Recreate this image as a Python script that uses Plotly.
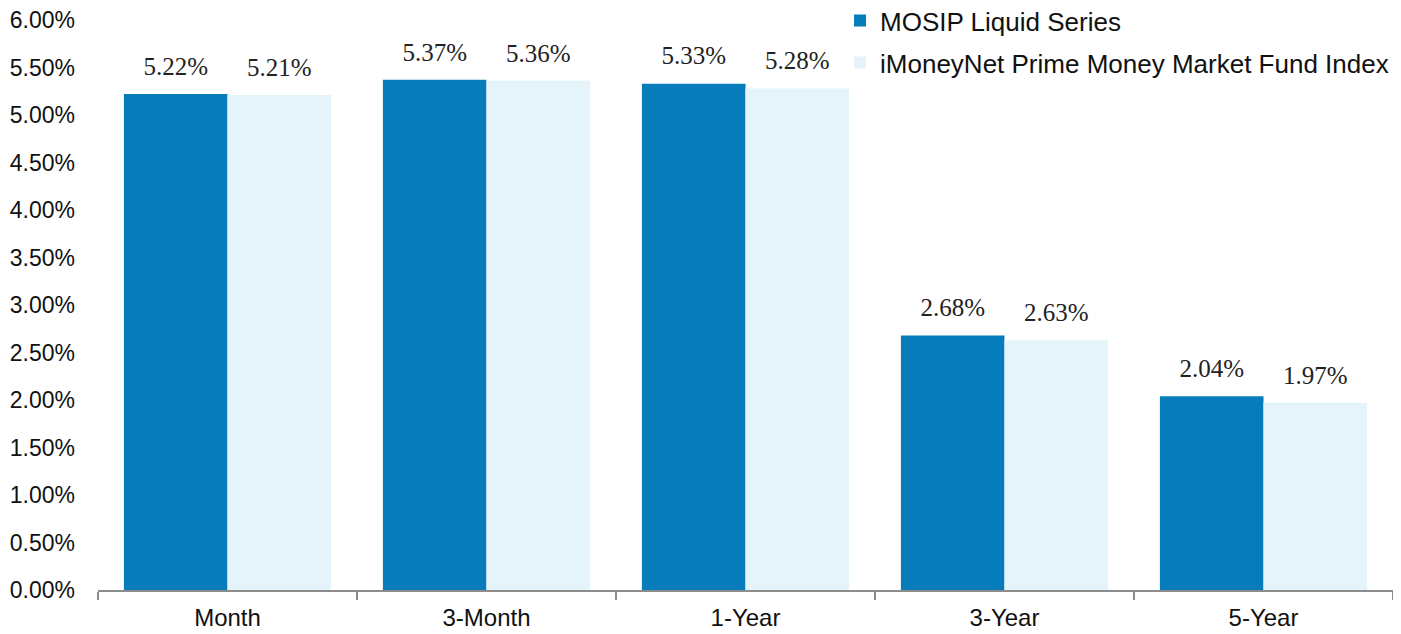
import plotly.graph_objects as go

categories = ["Month", "3-Month", "1-Year", "3-Year", "5-Year"]
mosip = [5.22, 5.37, 5.33, 2.68, 2.04]
imoney = [5.21, 5.36, 5.28, 2.63, 1.97]
series_names = ["MOSIP Liquid Series", "iMoneyNet Prime Money Market Fund Index"]
y_ticks = [0, 0.5, 1, 1.5, 2, 2.5, 3, 3.5, 4, 4.5, 5, 5.5, 6]

DARK = "#077CBA"
LIGHT = "#E5F3FB"

def labels(vals):
    return [f"<span style='font-size:25px'>{v:.2f}%</span><br> " for v in vals]

fig = go.Figure()
for name, vals, col, grp in [(series_names[0], mosip, DARK, "a"), (series_names[1], imoney, LIGHT, "b")]:
    fig.add_trace(go.Bar(
        x=categories, y=vals, name=name, marker=dict(color=col, line=dict(width=0)),
        text=labels(vals), textposition="outside", cliponaxis=False, constraintext="none",
        textfont=dict(family="Liberation Serif", size=11, color="#222"),
        legendgroup=grp,
    ))

fig.update_layout(
    width=1393, height=626,
    margin=dict(l=90, r=8, t=12, b=44, autoexpand=False),
    plot_bgcolor="white", paper_bgcolor="white",
    barmode="group", bargap=0.2, bargroupgap=0,
    font=dict(family="Liberation Sans, Arial", size=23, color="#111"),
    legend=dict(x=0.573, y=1.04, xanchor="left", yanchor="top", yref="paper",
                font=dict(size=26, color="#111"), bgcolor="rgba(0,0,0,0)",
                traceorder="grouped", tracegroupgap=5, itemwidth=30),
)
fig.update_xaxes(
    showline=True, linecolor="#8c8c8c", linewidth=2,
    ticks="outside", tickson="boundaries", ticklen=8, tickcolor="#8c8c8c", tickwidth=2,
    tickfont=dict(size=24), showgrid=False, ticklabelstandoff=5, automargin=False,
)
fig.update_yaxes(
    range=[0, 6], tickvals=y_ticks, ticktext=[f"{v:.2f}%" for v in y_ticks],
    showgrid=False, showline=False, zeroline=False, ticks="",
    tickfont=dict(size=23), ticklabelstandoff=22, automargin=False,
    ticklabeloverflow="allow",
)

fig.write_html("out.html")
